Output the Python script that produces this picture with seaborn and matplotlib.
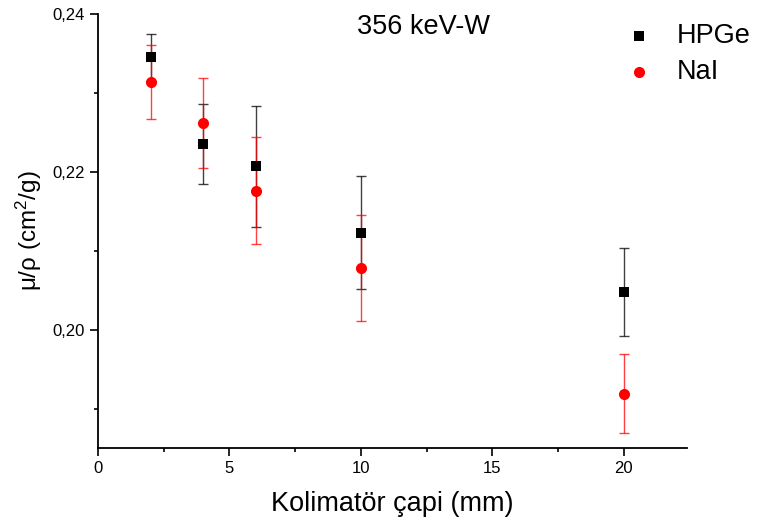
import matplotlib
matplotlib.use("Agg")
import matplotlib.pyplot as plt
import seaborn as sns
import pandas as pd
from matplotlib.ticker import MultipleLocator, FuncFormatter

# data
x_mm = [2, 4, 6, 10, 20]
hpge = [0.2345, 0.2235, 0.2207, 0.2123, 0.2048]
hpge_err = [0.0030, 0.0051, 0.0077, 0.0072, 0.0056]
nai = [0.2314, 0.2262, 0.2176, 0.2078, 0.1919]
nai_err = [0.0047, 0.0057, 0.0068, 0.0067, 0.0050]
series = ["HPGe", "NaI"]

sns.set_style("ticks")
plt.rcParams['font.family'] = ['Liberation Sans', 'DejaVu Sans']
plt.rcParams['mathtext.fontset'] = 'custom'
plt.rcParams['mathtext.rm'] = 'Liberation Sans'
plt.rcParams['mathtext.it'] = 'Liberation Sans'
plt.rcParams['text.color'] = 'black'
plt.rcParams['axes.labelcolor'] = 'black'
plt.rcParams['xtick.color'] = 'black'
plt.rcParams['ytick.color'] = 'black'
plt.rcParams['axes.edgecolor'] = 'black'

df_h = pd.DataFrame({"x": x_mm, "y": hpge})
df_n = pd.DataFrame({"x": x_mm, "y": nai})

fig = plt.figure(figsize=(7.58, 5.29), dpi=100)
ax = fig.add_axes([98/758, 1 - 448/529, (687-98)/758, (448-14)/529])

ax.errorbar(x_mm, hpge, yerr=hpge_err, fmt="none", ecolor="black", elinewidth=1,
            capsize=3.5, capthick=1, alpha=0.75, zorder=2)
ax.errorbar(x_mm, nai, yerr=nai_err, fmt="none", ecolor="red", elinewidth=1,
            capsize=3.5, capthick=1, alpha=0.75, zorder=2)

sns.scatterplot(data=df_h, x="x", y="y", color="black", marker="s", s=50,
                linewidth=0, ax=ax, zorder=3, label=series[0])
sns.scatterplot(data=df_n, x="x", y="y", color="red", marker="o", s=64,
                linewidth=0, ax=ax, zorder=3, label=series[1])

ax.set_xlim(0, 22.4)
ax.set_ylim(0.185, 0.24)
ax.xaxis.set_major_locator(MultipleLocator(5))
ax.xaxis.set_minor_locator(MultipleLocator(2.5))
ax.yaxis.set_major_locator(MultipleLocator(0.02))
ax.yaxis.set_minor_locator(MultipleLocator(0.01))
ax.yaxis.set_major_formatter(FuncFormatter(lambda v, p: f"{v:.2f}".replace(".", ",")))
ax.xaxis.set_major_formatter(FuncFormatter(lambda v, p: f"{v:g}"))
ax.tick_params(which="major", direction="out", length=6, width=1.2, labelsize=12, colors="black")
ax.tick_params(which="minor", direction="out", length=3, width=1.2)
for sp in ["top", "right"]:
    ax.spines[sp].set_visible(False)
for sp in ["left", "bottom"]:
    ax.spines[sp].set_linewidth(1.3)

ax.set_xlabel("Kolimatör çapi (mm)", fontsize=19.5, labelpad=11)
ax.set_ylabel(r"μ/ρ (cm$^2$/g)", fontsize=17.5, labelpad=6)

ax.text(0.553, 0.969, "356 keV-W", transform=ax.transAxes, fontsize=19.5,
        ha="center", va="center")

handles, labels = ax.get_legend_handles_labels()
if ax.get_legend() is not None:
    ax.get_legend().remove()
fig.legend(handles, labels, loc="upper left", bbox_to_anchor=(0.825, 0.956),
           frameon=False, fontsize=19.5, handlelength=1.0, handletextpad=0.9,
           labelspacing=0.35, borderpad=0, borderaxespad=0, markerscale=1.0)

fig.savefig("out.png", dpi=100)
